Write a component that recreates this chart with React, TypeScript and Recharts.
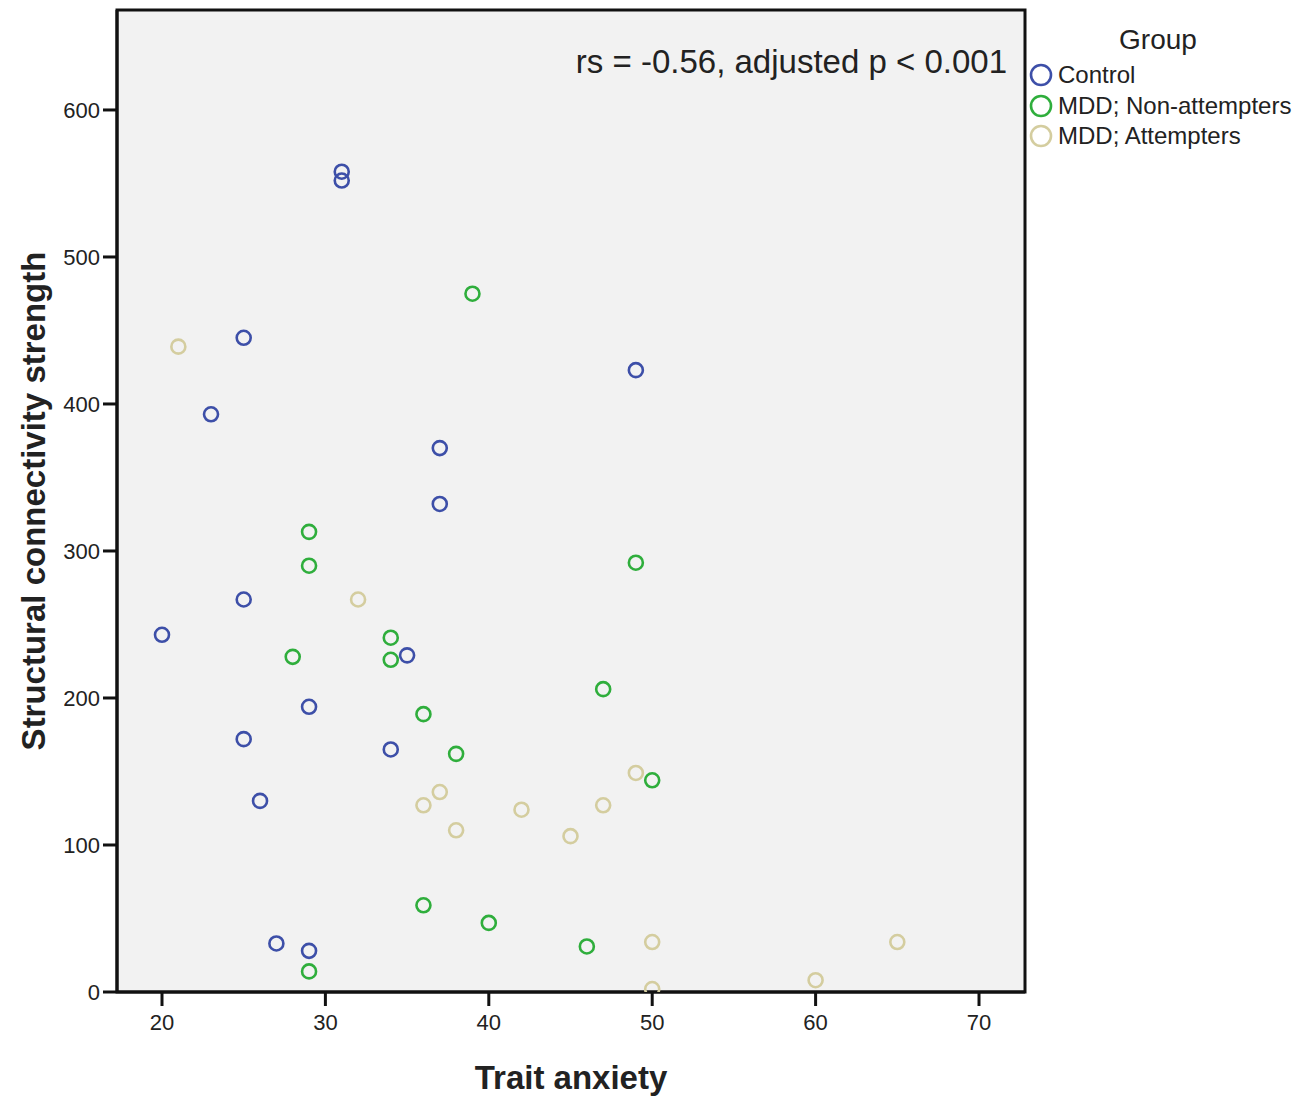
import React from 'react';
import {
  ScatterChart,
  Scatter,
  XAxis,
  YAxis,
  ReferenceArea,
} from 'recharts';

const FONT = '"Liberation Sans", Arial, sans-serif';

const X_TICKS = [20, 30, 40, 50, 60, 70];
const Y_TICKS = [0, 100, 200, 300, 400, 500, 600];

// Trait anxiety / structural connectivity strength
const controlX = [31, 31, 25, 23, 49, 37, 37, 25, 20, 35, 29, 25, 34, 26, 27, 29];
const controlY = [558, 552, 445, 393, 423, 370, 332, 267, 243, 229, 194, 172, 165, 130, 33, 28];

const nonAttX = [39, 29, 29, 49, 34, 28, 34, 47, 36, 38, 50, 36, 40, 46, 29];
const nonAttY = [475, 313, 290, 292, 241, 228, 226, 206, 189, 162, 144, 59, 47, 31, 14];

const attX = [21, 32, 49, 37, 36, 47, 42, 38, 45, 50, 65, 60, 50];
const attY = [439, 267, 149, 136, 127, 127, 124, 110, 106, 34, 34, 8, 2];

const GROUPS = [
  { name: 'Control', color: '#3d4fa8', xs: controlX, ys: controlY },
  { name: 'MDD; Non-attempters', color: '#2fae3c', xs: nonAttX, ys: nonAttY },
  { name: 'MDD; Attempters', color: '#d4cd9f', xs: attX, ys: attY },
];

const toPoints = (xs: number[], ys: number[]) => xs.map((x, i) => ({ x, y: ys[i] }));

const ringShape = (color: string) => (p: any) => (
  <circle cx={p.cx} cy={p.cy} r={7} fill="none" stroke={color} strokeWidth={2.6} />
);

function GroupLegend() {
  return (
    <div style={{ position: 'absolute', left: 1028, top: 24, fontFamily: FONT, color: '#222' }}>
      <div style={{ fontSize: 28, textAlign: 'center', width: 260, marginLeft: 0, marginBottom: 4 }}>
        Group
      </div>
      {GROUPS.map(g => (
        <div key={g.name} style={{ display: 'flex', alignItems: 'center', height: 30.5 }}>
          <svg width={26} height={26} style={{ marginRight: 4 }}>
            <circle cx={13} cy={13} r={10} fill="none" stroke={g.color} strokeWidth={2.6} />
          </svg>
          <span style={{ fontSize: 24 }}>{g.name}</span>
        </div>
      ))}
    </div>
  );
}

export default function App() {
  return (
    <div style={{ position: 'relative', width: 1300, height: 1102, background: '#fff' }}>
      <style>{'body{margin:0}'}</style>
      <ScatterChart
        width={1300}
        height={1102}
        margin={{ top: 10, right: 275, bottom: 0, left: 0 }}
      >
        <XAxis
          type="number"
          dataKey="x"
          domain={[17.246, 72.815]}
          ticks={X_TICKS}
          allowDataOverflow
          height={110}
          axisLine={{ stroke: '#111', strokeWidth: 3 }}
          tickLine={{ stroke: '#111', strokeWidth: 3 }}
          tickSize={14}
          tickMargin={8}
          tick={{ fill: '#222', fontSize: 22, fontFamily: FONT }}
          label={{
            value: 'Trait anxiety',
            position: 'insideBottom',
            offset: 13,
            style: { fontSize: 33, fontWeight: 'bold', fill: '#222', fontFamily: FONT },
          }}
        />
        <YAxis
          type="number"
          dataKey="y"
          domain={[0, 668]}
          ticks={Y_TICKS}
          allowDataOverflow
          width={117}
          axisLine={{ stroke: '#111', strokeWidth: 3 }}
          tickLine={{ stroke: '#111', strokeWidth: 3 }}
          tickSize={14}
          tickMargin={3}
          tick={{ fill: '#222', fontSize: 22, fontFamily: FONT }}
          label={{
            value: 'Structural connectivity strength',
            angle: -90,
            position: 'insideLeft',
            offset: 33,
            style: {
              fontSize: 33,
              fontWeight: 'bold',
              fill: '#222',
              fontFamily: FONT,
              textAnchor: 'middle',
            },
          }}
        />
        <ReferenceArea
          x1={17.246}
          x2={72.815}
          y1={0}
          y2={668}
          fill="#f2f2f2"
          fillOpacity={1}
          stroke="#111"
          strokeWidth={3}
          ifOverflow="extendDomain"
        />
        {GROUPS.map(g => (
          <Scatter
            key={g.name}
            name={g.name}
            data={toPoints(g.xs, g.ys)}
            fill={g.color}
            shape={ringShape(g.color)}
            isAnimationActive={false}
          />
        ))}
      </ScatterChart>
      <GroupLegend />
      <div
        style={{
          position: 'absolute',
          right: 293,
          top: 43,
          fontFamily: FONT,
          fontSize: 33,
          color: '#222',
          whiteSpace: 'nowrap',
        }}
      >
        rs = -0.56, adjusted p &lt; 0.001
      </div>
    </div>
  );
}
